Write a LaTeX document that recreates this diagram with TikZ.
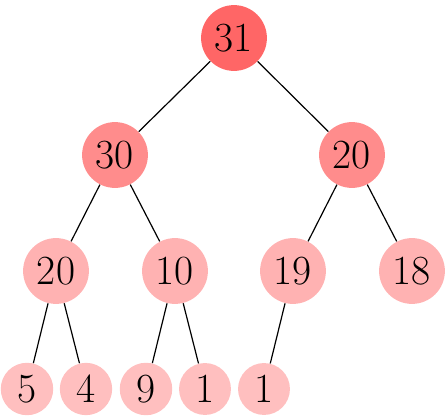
\documentclass[tikz,border=0pt]{standalone}
\usepackage{tikz}
\usetikzlibrary{positioning}
\usepackage{xcolor}

\begin{document}
\begin{tikzpicture}[
  x=0.5pt, y=-0.5pt,
  heap/.style={circle, font=\huge},
  edge/.style={semithick},
]
  \useasboundingbox (0,0) rectangle (447,418);

  \node[heap, fill=red!60] (root) at (234,38) {31};

  \node[heap, fill=red!45] (l) at (115,155) {30};
  \node[heap, fill=red!45] (r) at (352,155) {20};

  \node[heap, fill=red!30] (ll) at (56,271) {20};
  \node[heap, fill=red!30] (lr) at (175,271) {10};
  \node[heap, fill=red!30] (rl) at (293,271) {19};
  \node[heap, fill=red!30] (rr) at (412,271) {18};

  \node[heap, fill=red!25] (lll) at (27,389) {5};
  \node[heap, fill=red!25] (llr) at (86,389) {4};
  \node[heap, fill=red!25] (lrl) at (146,389) {9};
  \node[heap, fill=red!25] (lrr) at (205,389) {1};
  \node[heap, fill=red!25] (rll) at (264,389) {1};

  \draw[edge] (root) -- (l);
  \draw[edge] (root) -- (r);
  \draw[edge] (l) -- (ll);
  \draw[edge] (l) -- (lr);
  \draw[edge] (r) -- (rl);
  \draw[edge] (r) -- (rr);
  \draw[edge] (ll) -- (lll);
  \draw[edge] (ll) -- (llr);
  \draw[edge] (lr) -- (lrl);
  \draw[edge] (lr) -- (lrr);
  \draw[edge] (rl) -- (rll);
\end{tikzpicture}
\end{document}
